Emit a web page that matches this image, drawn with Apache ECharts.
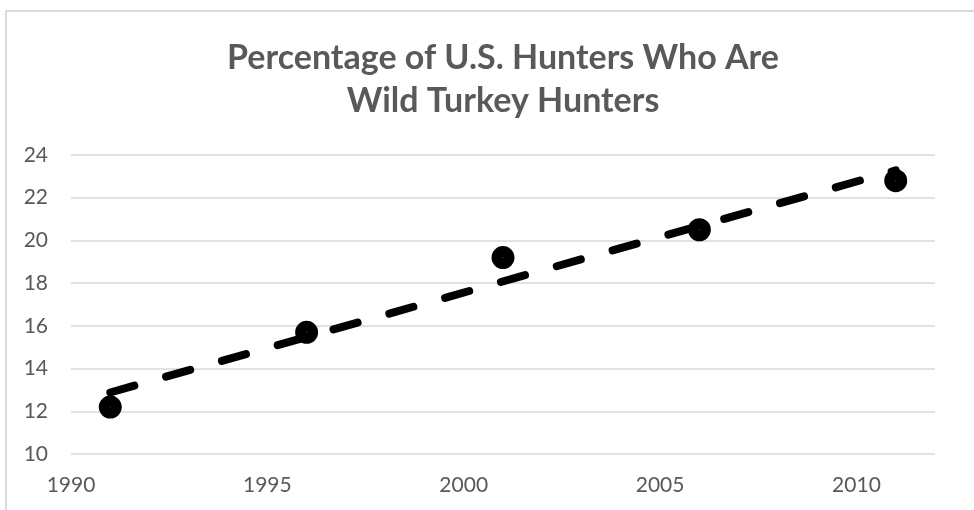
<!DOCTYPE html>
<html>
<head>
<meta charset="utf-8">
<script src="https://cdn.jsdelivr.net/npm/echarts@6/dist/echarts.min.js"></script>
<style>
  html, body { margin: 0; padding: 0; background: #fff; }
  #chart { width: 974px; height: 510px; }
</style>
</head>
<body>
<div id="chart"></div>
<script>
// Survey years and share of U.S. hunters who hunt wild turkey (%)
const years = [1991, 1996, 2001, 2006, 2011];
const percentTurkey = [12.2, 15.7, 19.2, 20.5, 22.8];

// Axis ticks
const yTicks = [10, 12, 14, 16, 18, 20, 22, 24];
const xTicks = [1990, 1995, 2000, 2005, 2010];

const titleLines = ['Percentage of U.S. Hunters Who Are', 'Wild Turkey Hunters'];

// Least-squares linear trendline through the survey points
function linearFit(xs, ys) {
  const n = xs.length;
  const mx = xs.reduce((a, b) => a + b, 0) / n;
  const my = ys.reduce((a, b) => a + b, 0) / n;
  let sxy = 0, sxx = 0;
  for (let i = 0; i < n; i++) {
    sxy += (xs[i] - mx) * (ys[i] - my);
    sxx += (xs[i] - mx) * (xs[i] - mx);
  }
  const slope = sxy / sxx;
  return x => my + slope * (x - mx);
}
const fit = linearFit(years, percentTurkey);
const trendData = [years[0], years[years.length - 1]].map(x => [x, fit(x)]);

const textGray = '#595959';
const gridGray = '#d9d9d9';
const font = 'Lato';

const chart = echarts.init(document.getElementById('chart'), null, { renderer: 'canvas' });
chart.setOption({
  animation: false,
  backgroundColor: '#ffffff',
  textStyle: { fontFamily: font },
  graphic: [{
    type: 'rect',
    shape: { x: 6, y: 11, width: 1000, height: 600 },
    style: { fill: 'none', stroke: gridGray, lineWidth: 2 },
    silent: true
  }],
  title: {
    text: titleLines.join('\n'),
    left: 498,
    top: 32,
    textAlign: 'center',
    textStyle: {
      fontFamily: font,
      fontSize: 34,
      fontWeight: 'bold',
      color: textGray,
      lineHeight: 43
    }
  },
  grid: { left: 71, right: 39, top: 155, bottom: 56, containLabel: false },
  xAxis: {
    type: 'value',
    min: xTicks[0],
    max: 2012,
    interval: 5,
    axisLine: { show: false },
    axisTick: { show: false },
    splitLine: { show: false },
    axisLabel: {
      showMaxLabel: false,
      color: textGray,
      fontSize: 21,
      fontFamily: font,
      margin: 21,
      formatter: v => (xTicks.includes(v) ? String(v) : '')
    }
  },
  yAxis: {
    type: 'value',
    min: yTicks[0],
    max: yTicks[yTicks.length - 1],
    interval: 2,
    axisLine: { show: false },
    axisTick: { show: false },
    splitLine: { show: true, lineStyle: { color: gridGray, width: 1.5 } },
    axisLabel: {
      color: textGray,
      fontSize: 21,
      fontFamily: font,
      margin: 23
    }
  },
  series: [
    {
      name: 'Trend',
      type: 'line',
      data: trendData,
      showSymbol: false,
      symbol: 'none',
      silent: true,
      z: 3,
      lineStyle: { color: '#000', width: 8, type: [25, 33], cap: 'round' }
    },
    {
      name: 'Wild turkey hunters',
      type: 'scatter',
      data: years.map((y, i) => [y, percentTurkey[i]]),
      symbol: 'circle',
      symbolSize: 12,
      z: 2,
      itemStyle: { color: '#4472c4', borderColor: '#000', borderWidth: 11, opacity: 1 }
    }
  ]
});
</script>
</body>
</html>
